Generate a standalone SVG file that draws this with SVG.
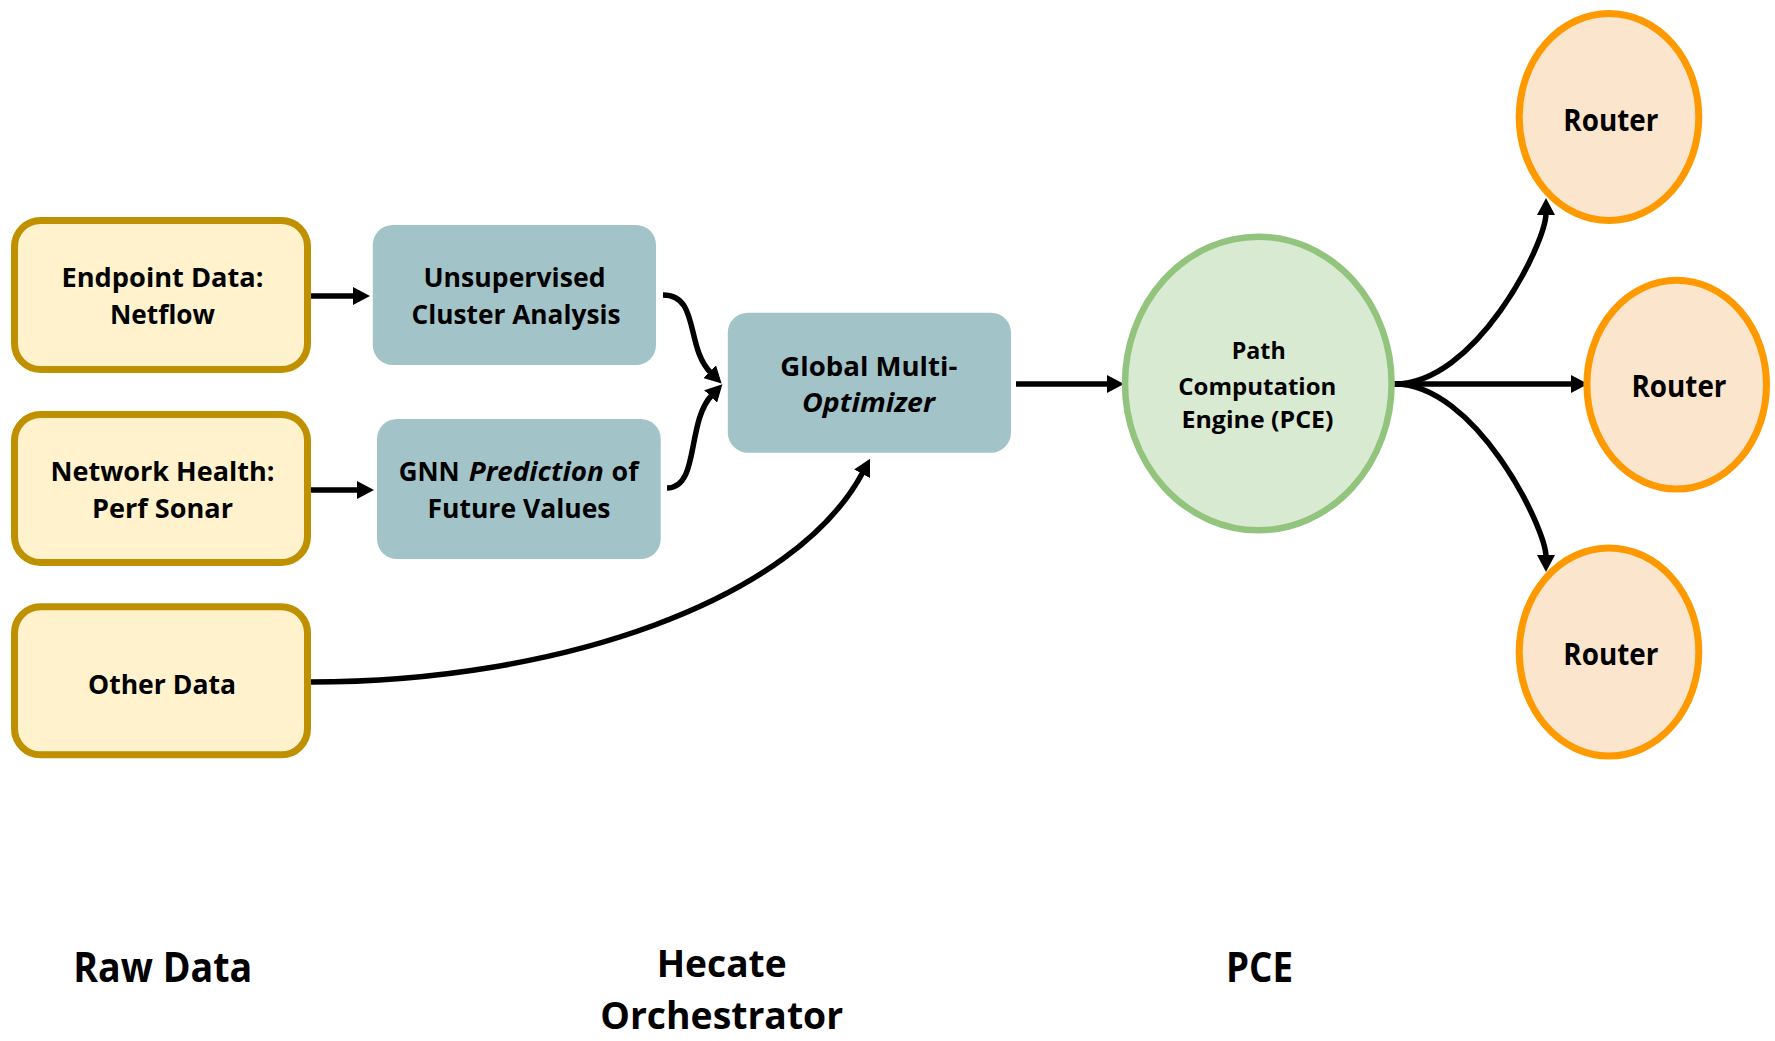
<svg xmlns="http://www.w3.org/2000/svg" width="1775" height="1041" viewBox="0 0 1775 1041">
  <style>
    .raw { fill: #FFF2CC; stroke: #BF9000; stroke-width: 7; }
    .proc { fill: #A2C4C9; }
    .pce { fill: #D9EAD3; stroke: #93C47D; stroke-width: 6.5; }
    .router { fill: #FCE5CD; stroke: #FF9900; stroke-width: 7; }
    text { font-family: "Open Sans", "Liberation Sans", sans-serif; font-weight: bold; fill: #000; }
    .t { font-size: 27px; text-anchor: middle; }
    .ts { font-size: 27px; }
    .tp { font-size: 24px; text-anchor: middle; }
    .tr { font-size: 30px; text-anchor: middle; }
    .tl { font-size: 41px; text-anchor: middle; }
    .tl2 { font-size: 38px; text-anchor: middle; }
    .it { font-style: italic; }
    .edge { fill: none; stroke: #000; stroke-width: 5.5; }
  </style>
  <defs>
    <marker id="arrow" viewBox="0 0 17 18" refX="2" refY="9" markerWidth="17" markerHeight="18" markerUnits="userSpaceOnUse" orient="auto">
      <path d="M0,0 L17,9 L0,18 z" fill="#000"/>
    </marker>
  </defs>

  <rect width="1775" height="1041" fill="#fff"/>

  <!-- connectors -->
  <g id="connectors">
    <path class="edge" d="M311,296 L355,296" marker-end="url(#arrow)"/>
    <path class="edge" d="M311,490 L359,490" marker-end="url(#arrow)"/>
    <path class="edge" d="M663,295 C700,295 685,347 711,373" marker-end="url(#arrow)"/>
    <path class="edge" d="M667,488 C700,488 686,422 712,395" marker-end="url(#arrow)"/>
    <path class="edge" d="M310,682 C560,682 795,600 863,472" marker-end="url(#arrow)"/>
    <path class="edge" d="M1016,384 L1109,384" marker-end="url(#arrow)"/>
    <path class="edge" d="M1393,384 C1475,386 1546,244 1546,213" marker-end="url(#arrow)"/>
    <path class="edge" d="M1393,384 L1573,384" marker-end="url(#arrow)"/>
    <path class="edge" d="M1393,384 C1475,382 1546,528 1546,557" marker-end="url(#arrow)"/>
  </g>

  <!-- raw data sources -->
  <g id="endpoint-data">
    <rect class="raw" x="14.5" y="220.5" width="293" height="149" rx="26"/>
    <text class="t" x="162.5" y="286.7" textLength="202" lengthAdjust="spacingAndGlyphs">Endpoint Data:</text>
    <text class="t" x="162.5" y="324" textLength="105" lengthAdjust="spacingAndGlyphs">Netflow</text>
  </g>
  <g id="network-health">
    <rect class="raw" x="14.5" y="414.5" width="293" height="148" rx="26"/>
    <text class="t" x="162.5" y="480.7" textLength="224" lengthAdjust="spacingAndGlyphs">Network Health:</text>
    <text class="t" x="162.5" y="518" textLength="141" lengthAdjust="spacingAndGlyphs">Perf Sonar</text>
  </g>
  <g id="other-data">
    <rect class="raw" x="14.5" y="606.8" width="293" height="148" rx="26"/>
    <text class="t" x="162" y="694.3" textLength="148" lengthAdjust="spacingAndGlyphs">Other Data</text>
  </g>

  <!-- orchestrator stages -->
  <g id="cluster-analysis">
    <rect class="proc" x="372.8" y="225" width="283.2" height="140" rx="20"/>
    <text class="t" x="514.5" y="287.3" textLength="182" lengthAdjust="spacingAndGlyphs">Unsupervised</text>
    <text class="t" x="516" y="324" textLength="209" lengthAdjust="spacingAndGlyphs">Cluster Analysis</text>
  </g>
  <g id="gnn-prediction">
    <rect class="proc" x="377" y="419" width="283.7" height="140" rx="20"/>
    <text class="ts" x="398.7" y="480.7" textLength="61" lengthAdjust="spacingAndGlyphs">GNN</text>
    <text class="ts it" x="468.7" y="480.7" textLength="135" lengthAdjust="spacingAndGlyphs">Prediction</text>
    <text class="ts" x="611.6" y="480.7" textLength="27" lengthAdjust="spacingAndGlyphs">of</text>
    <text class="t" x="519" y="518.3" textLength="183" lengthAdjust="spacingAndGlyphs">Future Values</text>
  </g>
  <g id="global-optimizer">
    <rect class="proc" x="727.8" y="312.7" width="283.2" height="140" rx="20"/>
    <text class="t" x="868.8" y="375.7" textLength="177" lengthAdjust="spacingAndGlyphs">Global Multi-</text>
    <text class="t it" x="868.5" y="411.7" textLength="133" lengthAdjust="spacingAndGlyphs">Optimizer</text>
  </g>

  <!-- path computation engine -->
  <g id="pce">
    <ellipse class="pce" cx="1258.3" cy="383.5" rx="133.3" ry="146.7"/>
    <text class="tp" x="1258.7" y="359.3" textLength="54" lengthAdjust="spacingAndGlyphs">Path</text>
    <text class="tp" x="1257.3" y="395" textLength="158" lengthAdjust="spacingAndGlyphs">Computation</text>
    <text class="tp" x="1257.5" y="428.3" textLength="152" lengthAdjust="spacingAndGlyphs">Engine (PCE)</text>
  </g>

  <!-- routers -->
  <g id="router-top">
    <ellipse class="router" cx="1609" cy="117" rx="89.8" ry="103.5"/>
    <text class="tr" x="1610.8" y="130.5" textLength="95" lengthAdjust="spacingAndGlyphs">Router</text>
  </g>
  <g id="router-middle">
    <ellipse class="router" cx="1676.7" cy="384.7" rx="89.8" ry="104.4"/>
    <text class="tr" x="1679" y="396.5" textLength="95" lengthAdjust="spacingAndGlyphs">Router</text>
  </g>
  <g id="router-bottom">
    <ellipse class="router" cx="1609" cy="652" rx="89.8" ry="104"/>
    <text class="tr" x="1610.8" y="665" textLength="95" lengthAdjust="spacingAndGlyphs">Router</text>
  </g>

  <!-- column labels -->
  <g id="labels">
    <text class="tl" x="162.8" y="982.3" textLength="179" lengthAdjust="spacingAndGlyphs">Raw Data</text>
    <text class="tl2" x="721.7" y="977" textLength="130" lengthAdjust="spacingAndGlyphs">Hecate</text>
    <text class="tl2" x="721.7" y="1029" textLength="243" lengthAdjust="spacingAndGlyphs">Orchestrator</text>
    <text class="tl" x="1259.5" y="982.3" textLength="67" lengthAdjust="spacingAndGlyphs">PCE</text>
  </g>
</svg>
